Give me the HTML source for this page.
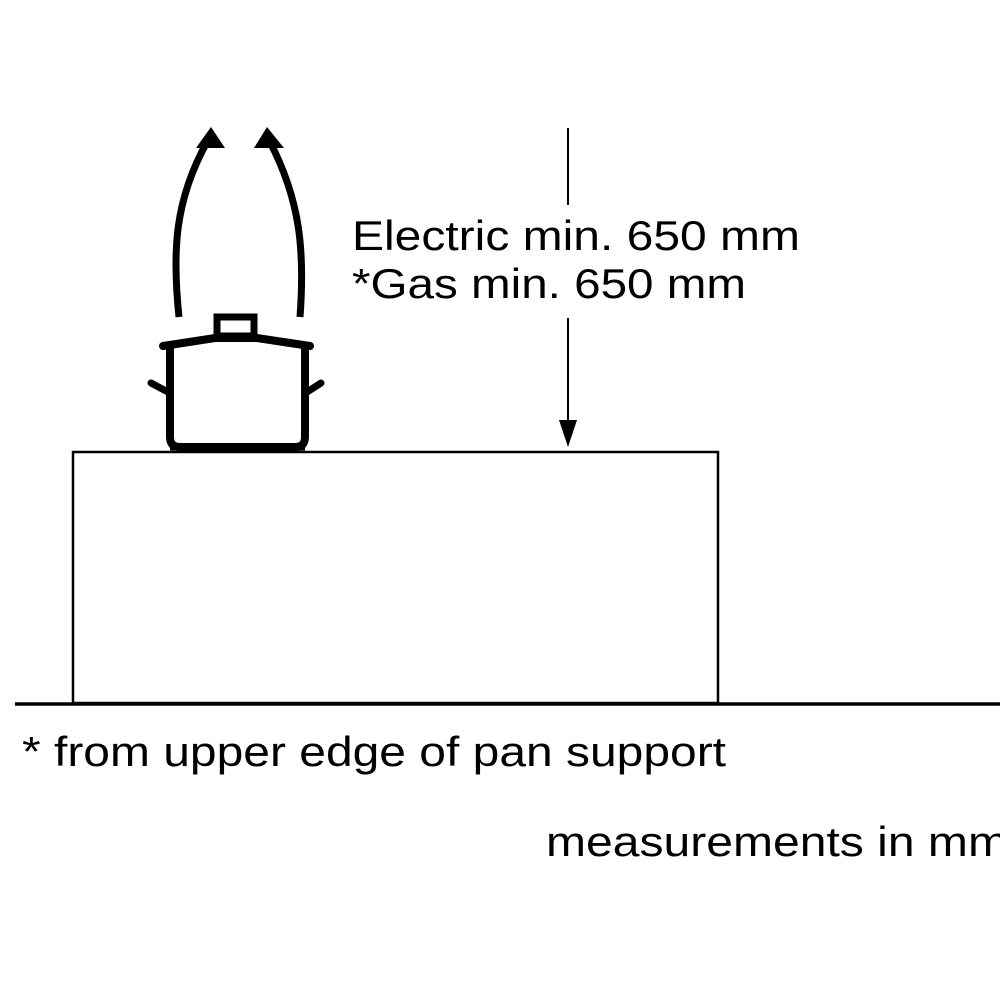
<!DOCTYPE html>
<html><head><style>
html,body{margin:0;padding:0;background:#fff;}
svg{display:block;}
text{font-family:"Liberation Sans",sans-serif;font-size:42px;fill:#000;}
</style></head><body>
<svg width="1000" height="1000" viewBox="0 0 1000 1000" xmlns="http://www.w3.org/2000/svg">
<rect width="1000" height="1000" fill="#fff"/>
<!-- arrows -->
<path d="M179 317 C172 250 175 200 207 142" stroke="#000" stroke-width="7" fill="none"/>
<polygon points="196,148 225,148 211,127" fill="#000"/>
<path d="M300 317 C305 250 300 200 270 142" stroke="#000" stroke-width="7" fill="none"/>
<polygon points="254,148 284,148 267,127" fill="#000"/>
<!-- pot -->
<rect x="217" y="317" width="37" height="19" fill="none" stroke="#000" stroke-width="7"/>
<path d="M163 346 L215 338 L257 338 L310 346" stroke="#000" stroke-width="8" fill="none" stroke-linecap="round"/>
<path d="M170 345 L170 437 Q170 447 180 447 L295 447 Q305 447 305 437 L305 345" stroke="#000" stroke-width="8" fill="none"/>
<line x1="170" y1="447" x2="305" y2="447" stroke="#000" stroke-width="7"/>
<line x1="151" y1="383" x2="168" y2="392" stroke="#000" stroke-width="7" stroke-linecap="round"/>
<line x1="321" y1="383" x2="307" y2="392" stroke="#000" stroke-width="7" stroke-linecap="round"/>
<!-- box -->
<rect x="73" y="452" width="645" height="251" fill="none" stroke="#000" stroke-width="2.5"/>
<line x1="15" y1="704" x2="1000" y2="704" stroke="#000" stroke-width="3.5"/>
<!-- dimension -->
<line x1="568" y1="128" x2="568" y2="205" stroke="#000" stroke-width="2"/>
<line x1="568" y1="318" x2="568" y2="430" stroke="#000" stroke-width="2"/>
<polygon points="559,420 577,420 568,447" fill="#000"/>
<text x="352" y="250" textLength="448" lengthAdjust="spacingAndGlyphs">Electric min. 650 mm</text>
<text x="352" y="298" textLength="394" lengthAdjust="spacingAndGlyphs">*Gas min. 650 mm</text>
<text x="22" y="766" textLength="704" lengthAdjust="spacingAndGlyphs">* from upper edge of pan support</text>
<text x="546" y="856" textLength="462" lengthAdjust="spacingAndGlyphs">measurements in mm</text>
</svg>
</body></html>
